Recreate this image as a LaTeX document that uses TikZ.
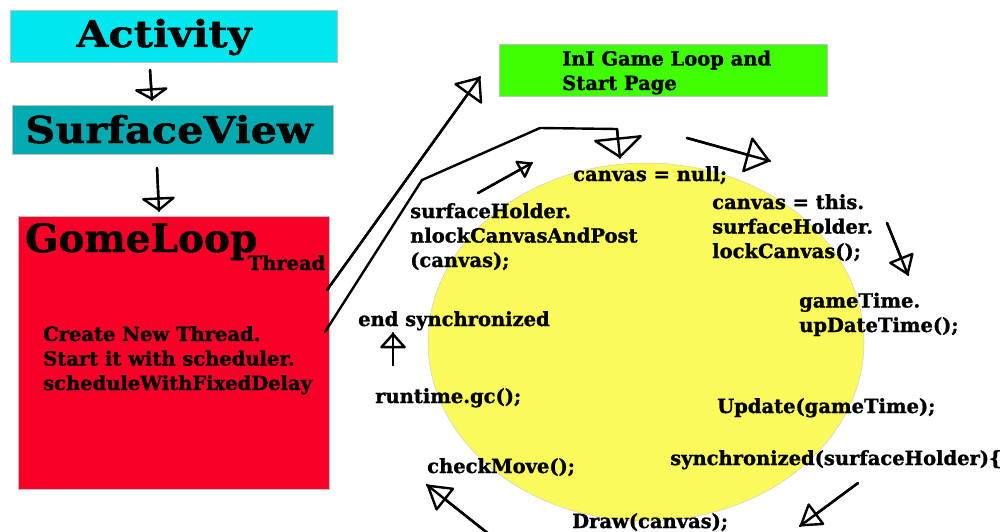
\documentclass[tikz,border=0pt]{standalone}
\usepackage{fontspec}
\setmainfont{DejaVu Serif}[BoldFeatures={FakeBold=1.2}]
\newfontfamily\headfont{DejaVu Serif}[BoldFeatures={FakeStretch=1.12, FakeBold=1.2}]
\usetikzlibrary{arrows.meta}

\definecolor{actcyan}{RGB}{0,232,238}
\definecolor{viewteal}{RGB}{0,170,176}
\definecolor{loopred}{RGB}{248,0,40}
\definecolor{startgreen}{RGB}{64,255,0}
\definecolor{loopyellow}{RGB}{250,250,92}

\tikzset{
  panel/.style={draw=black!25, line width=0.6pt, anchor=north west, inner sep=0pt},
  title/.style={font=\headfont\fontsize{#1}{#1}\selectfont\bfseries, anchor=base, inner sep=0pt},
  code/.style={font=\fontsize{19.5}{24.5}\selectfont\bfseries, anchor=base west,
    align=left, inner sep=0pt},
  shaft/.style={draw=black, line width=2.4pt, line cap=round, line join=round},
  head/.style 2 args={shaft, -{Triangle[open, length=#1pt, width=#2pt,
    line width=2.4pt, round]}},
}

\begin{document}
\begin{tikzpicture}[x=1pt, y=-1pt]
\useasboundingbox (0,0) rectangle (1008,532);

% the game loop cycle
\fill[loopyellow, draw=black!20, line width=0.5pt] (646,342) ellipse [x radius=218, y radius=179];

% class boxes
\node[panel, fill=actcyan, minimum width=327pt, minimum height=52pt] (act) at (10,10) {};
\node[title=37] (actT) at (164,47) {Activity};
\node[panel, fill=viewteal, minimum width=321pt, minimum height=49pt] (view) at (12,105) {};
\node[title=37] (viewT) at (169,143) {SurfaceView};
\node[panel, fill=loopred, minimum width=311pt, minimum height=273pt] (thr) at (18,216) {};
\node[font=\fontsize{39}{39}\selectfont\bfseries, anchor=base west, inner sep=0pt] (thrT) at (25,252) {GomeLoop};
\node[code] (thrSub) at (thrT.base east) [xshift=-10pt, yshift=-18pt] {Thread};
% multi-line nodes are placed by the baseline of their last line
\node[code] (thrBody) at (43,390) {Create New Thread.\\Start it with scheduler.\\scheduleWithFixedDelay};
\node[panel, fill=startgreen, minimum width=328pt, minimum height=52pt] (start) at (499,44) {};
\node[code] (startT) at (562,90) {InI Game Loop and\\Start Page};

% steps of the loop
\node[code] (sNull)   at (573,181) {canvas = null;};
\node[code] (sLock)   at (712,258) {canvas = this.\\surfaceHolder.\\lockCanvas();};
\node[code] (sTime)   at (799,332) {gameTime.\\upDateTime();};
\node[code] (sUpd)    at (717,413) {Update(gameTime);};
\node[code] (sSync)   at (670,465) {synchronized(surfaceHolder)\{};
\node[code] (sDraw)   at (572,528) {Draw(canvas);};
\node[code] (sMove)   at (427,473) {checkMove();};
\node[code] (sGc)     at (375,403) {runtime.gc();};
\node[code] (sEnd)    at (358,326) {end synchronized};
\node[code] (sPost)   at (410,267) {surfaceHolder.\\nlockCanvasAndPost\\(canvas);};

% connector end points
\coordinate (a1t) at (150,70);   \coordinate (a1h) at (152,100);
\coordinate (a2t) at (157,168);  \coordinate (a2h) at (159,211);
\coordinate (a3t) at (327,290);  \coordinate (a3h) at (480,77);
\coordinate (a4t) at (325,332);  \coordinate (a4b1) at (422,180);
\coordinate (a4b2) at (540,128); \coordinate (a4b3) at (617,129);
\coordinate (a4h) at (620,158);
\coordinate (a5t) at (478,193);  \coordinate (a5h) at (532,163);
\coordinate (a6t) at (687,138);  \coordinate (a6h) at (770,161);
\coordinate (a7t) at (887,223);  \coordinate (a7h) at (908,275);
\coordinate (a8t) at (858,483);  \coordinate (a8h) at (800,526);
\coordinate (a9t) at (490,535);  \coordinate (a9h) at (427,485);
\coordinate (a10t) at (393,365); \coordinate (a10h) at (393,333);

% shafts run right into the open heads
\draw[shaft] (a1t) -- (a1h);
\draw[head={12}{38}] (a1t) -- (a1h);
\draw[shaft] (a2t) -- (a2h);
\draw[head={14}{37}] (a2t) -- (a2h);
\draw[shaft] (a3t) -- (a3h);
\draw[head={22}{36}] (a3t) -- (a3h);
\draw[shaft] (a4t) -- (a4b1) -- (a4b2) -- (a4b3) -- (a4h);
\draw[head={21}{52}] (a4b3) -- (a4h);
\draw[shaft] (a5t) -- (a5h);
\draw[head={15}{21}] (a5t) -- (a5h);
\draw[shaft] (a6t) -- (a6h);
\draw[head={25}{38}] (a6t) -- (a6h);
\draw[shaft] (a7t) -- (a7h);
\draw[head={20}{28}] (a7t) -- (a7h);
\draw[shaft] (a8t) -- (a8h);
\draw[head={22}{28}] (a8t) -- (a8h);
\draw[shaft] (a9t) -- (a9h);
\draw[head={25}{30}] (a9t) -- (a9h);
\draw[shaft] (a10t) -- (a10h);
\draw[head={16}{28}] (a10t) -- (a10h);
\end{tikzpicture}
\end{document}
